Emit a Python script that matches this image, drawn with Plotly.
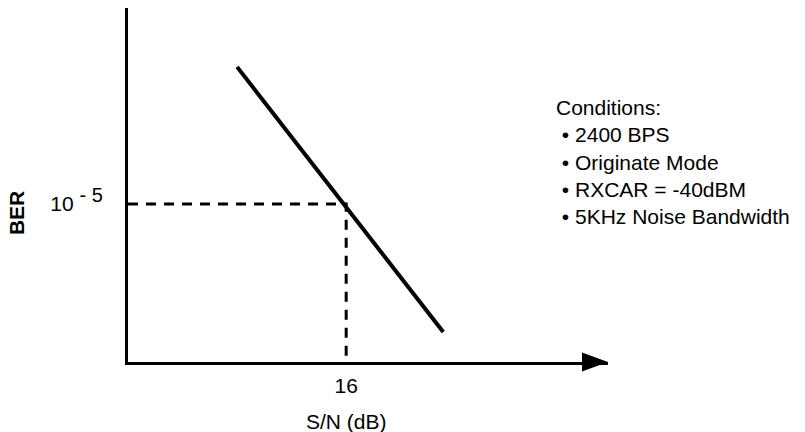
import plotly.graph_objects as go

# ---- data ----
sn_line_db = [13.0, 18.67]          # S/N (dB) at ends of the BER curve
ber_line = [4.0e-3, 3.7e-8]         # BER at ends of the curve
ref_sn_db = 16                      # marked S/N
ref_ber = 1e-5                      # marked BER
x_tick_vals = [16]
x_tick_text = ["16"]
y_tick_vals = [1e-5]
y_tick_text = ["10 <sup><span style='font-size:20px'>- 5</span></sup>"]
conditions_title = "Conditions:"
conditions = ["2400 BPS", "Originate Mode", "RXCAR = -40dBM", "5KHz Noise Bandwidth"]
x_min, x_max = 10, 23.2
y_min_exp, y_max_exp = -8, -1.28

FONT = "Liberation Sans, Arial, sans-serif"

fig = go.Figure()

# BER curve
fig.add_trace(go.Scatter(
    x=sn_line_db, y=ber_line, mode="lines",
    line=dict(color="black", width=4), hoverinfo="skip"))

# dashed guide lines to the marked point
fig.add_trace(go.Scatter(
    x=[x_min, ref_sn_db, ref_sn_db],
    y=[ref_ber, ref_ber, 10 ** y_min_exp],
    mode="lines", line=dict(color="black", width=3, dash="10px,8px"),
    cliponaxis=False, hoverinfo="skip"))

cond_text = conditions_title + "<br>" + "<br>".join("\u00a0• " + c for c in conditions)

fig.update_layout(
    width=805, height=432,
    margin=dict(l=128, r=197, t=8, b=70),
    paper_bgcolor="white", plot_bgcolor="white",
    showlegend=False,
    font=dict(family=FONT, size=21, color="black"),
    xaxis=dict(range=[x_min, x_max], showline=True, linewidth=3, linecolor="black",
               showgrid=False, zeroline=False, ticks="",
               tickvals=x_tick_vals, ticktext=x_tick_text,
               tickfont=dict(size=21), ticklabelstandoff=3),
    yaxis=dict(type="log", range=[y_min_exp, y_max_exp], showline=True, linewidth=3,
               linecolor="black", showgrid=False, zeroline=False, ticks="",
               tickvals=y_tick_vals, ticktext=y_tick_text,
               tickfont=dict(size=21), ticklabelstandoff=18),
    shapes=[dict(type="path", xref="paper", yref="paper",
                 xsizemode="pixel", ysizemode="pixel", xanchor=1, yanchor=0,
                 path="M0,0 L-26,9.5 L-26,-9.5 Z",
                 fillcolor="black", line=dict(width=0))],
    annotations=[
        dict(text="<b>BER</b>", xref="paper", yref="paper", x=-0.231, y=0.421,
             xanchor="center", yanchor="middle",
             textangle=-90, showarrow=False, font=dict(size=21)),
        dict(text="S/N (dB)", xref="paper", yref="paper", x=0.456, y=-0.169,
             xanchor="center", yanchor="middle",
             showarrow=False, font=dict(size=21)),
        dict(text=cond_text, xref="paper", yref="paper", x=0.888, y=0.566,
             xanchor="left", yanchor="middle", align="left", showarrow=False,
             font=dict(size=21)),
    ],
)

fig.write_html("out.html", config={"displayModeBar": False},
               post_script="document.body.style.margin='0px';")
